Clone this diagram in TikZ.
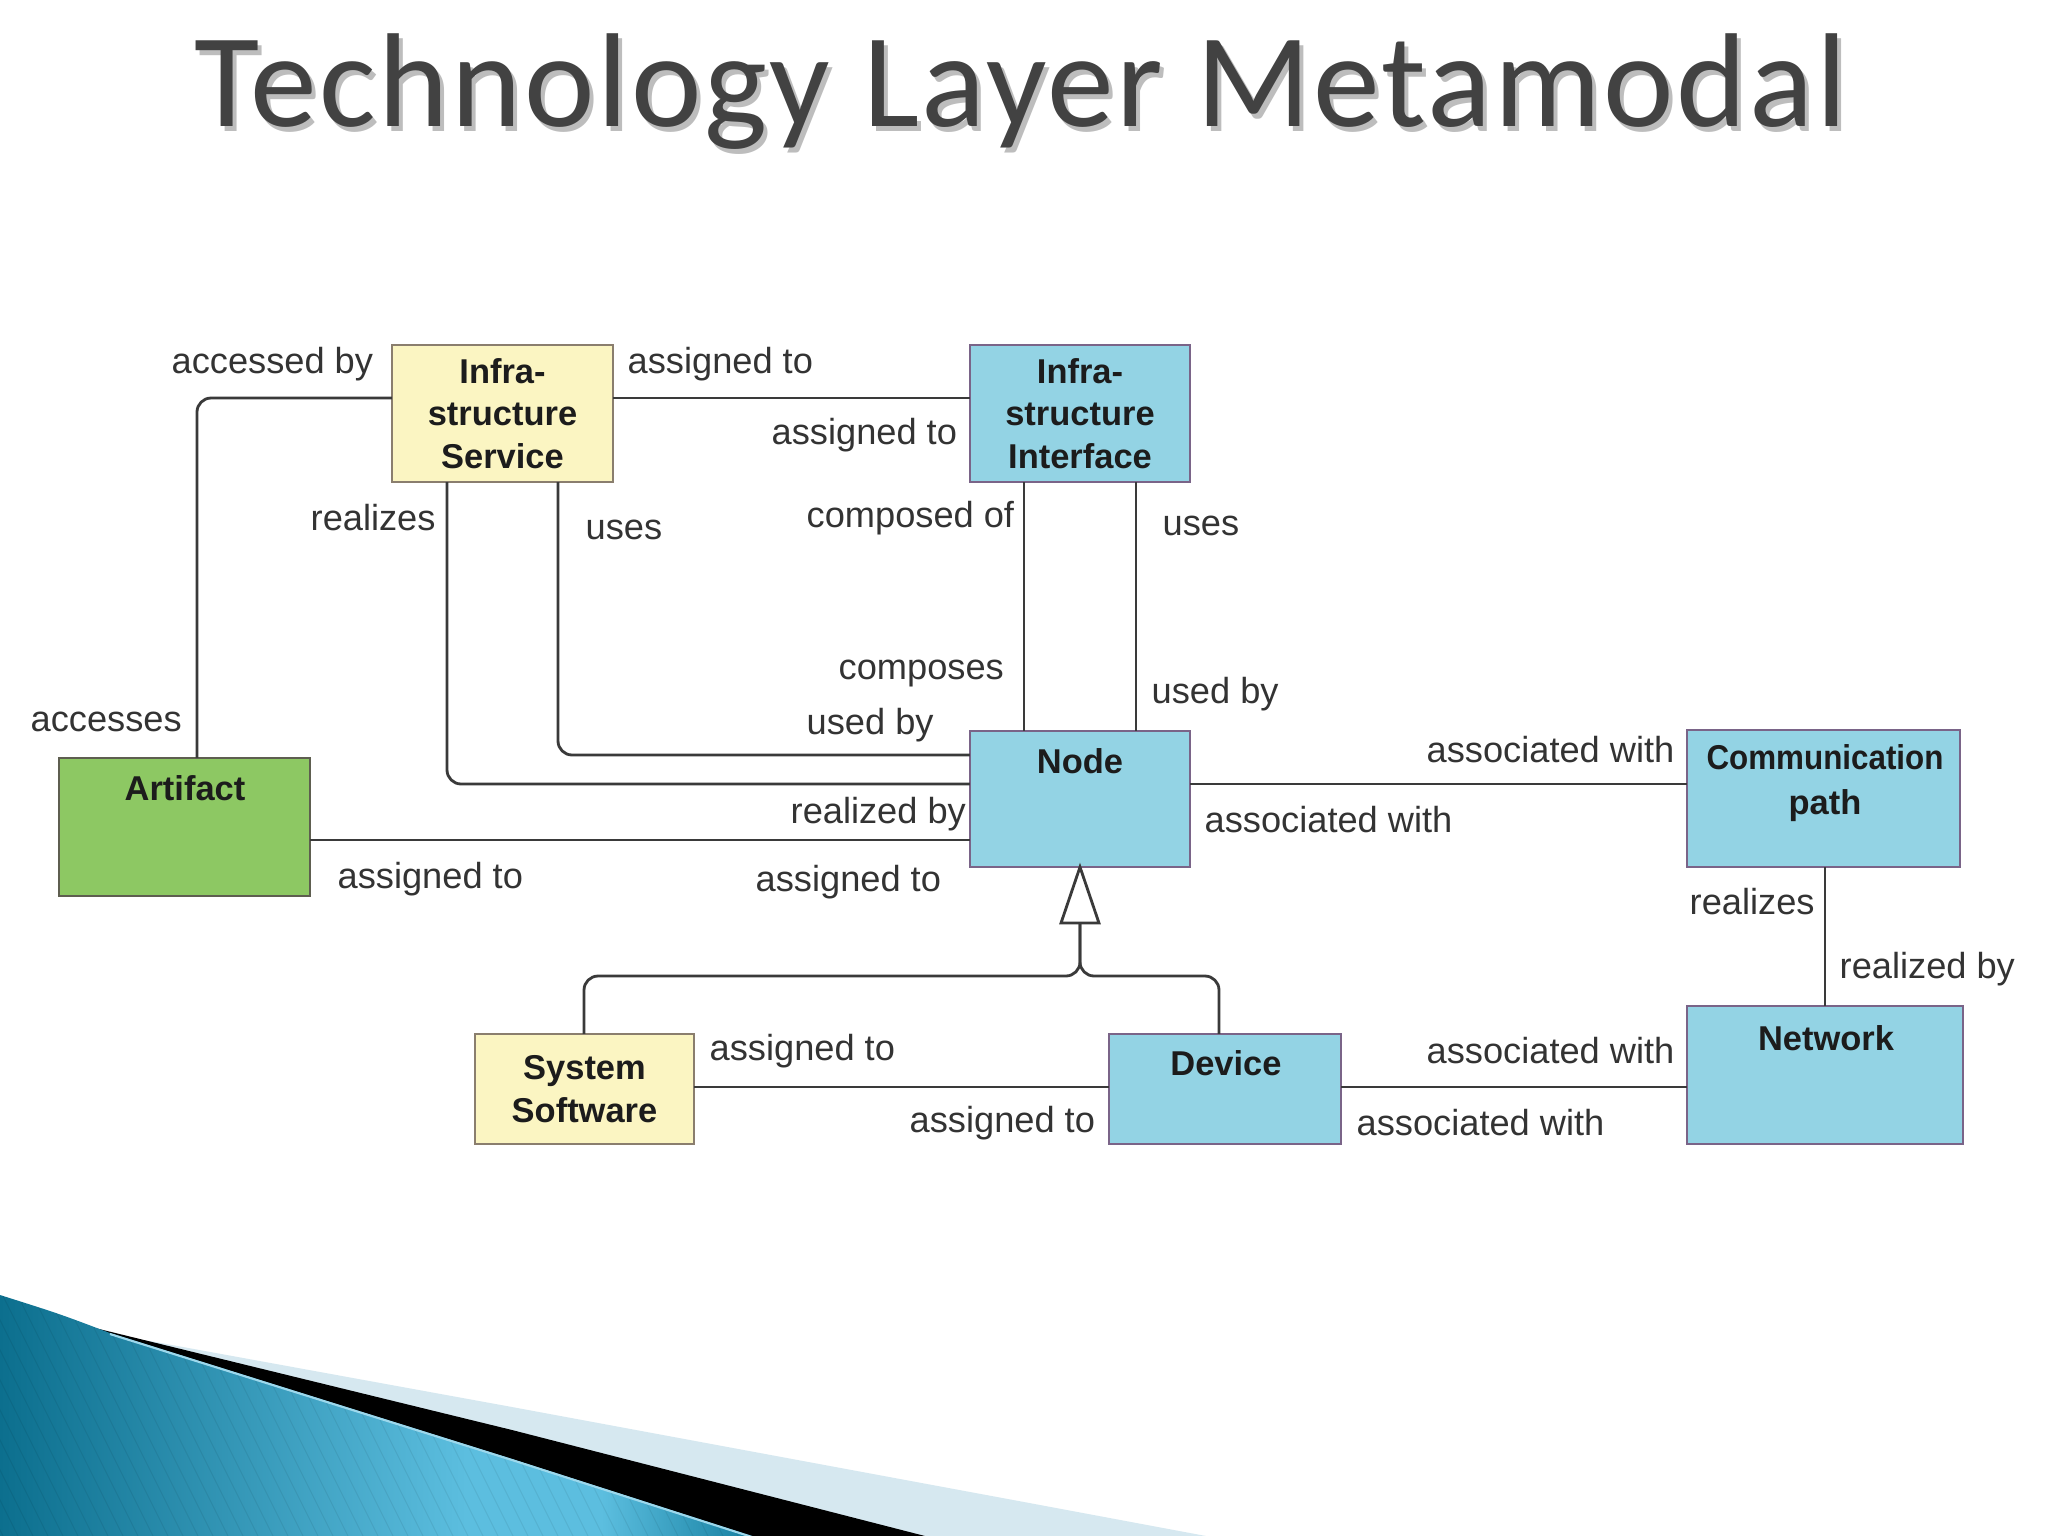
\documentclass[tikz,border=0pt]{standalone}
\usepackage{fontspec}
\setmainfont{Liberation Sans}
\newfontfamily\titlefont[LetterSpace=2.0]{Carlito}
\usetikzlibrary{calc}
\definecolor{lnc}{HTML}{3A3A3A}
\definecolor{lblc}{HTML}{333333}
\definecolor{boxtext}{HTML}{1C1C1C}
\definecolor{yel}{HTML}{FBF5C2}
\definecolor{ybord}{HTML}{8A7E6E}
\definecolor{blu}{HTML}{93D3E4}
\definecolor{bbord}{HTML}{7A6488}
\definecolor{grn}{HTML}{8DC863}
\definecolor{gbord}{HTML}{5E5E50}
\definecolor{titlec}{HTML}{424242}
\definecolor{shadowc}{HTML}{BDBDBD}
\definecolor{decdk}{HTML}{0C6F8E}
\definecolor{declt}{HTML}{5CBEDF}
\definecolor{decdk2}{HTML}{1680A1}
\definecolor{declb}{HTML}{D6E8F0}
\pgfdeclarehorizontalshading{blueshade}{100bp}{color(0bp)=(decdk); color(25bp)=(decdk); color(56bp)=(declt); color(65bp)=(declt); color(75bp)=(decdk2); color(100bp)=(decdk2)}
\begin{document}
\begin{tikzpicture}[x=0.01cm,y=-0.01cm,
  ln/.style={draw=lnc, line width=0.8pt},
  box/.style={line width=0.7pt, inner sep=0pt, outer sep=0pt, align=center,
    font=\fontsize{9.8}{12.1}\selectfont\bfseries, text=boxtext},
  ybox/.style={box, fill=yel, draw=ybord},
  bbox/.style={box, fill=blu, draw=bbord},
  gbox/.style={box, fill=grn, draw=gbord},
  btxt/.style={inner sep=0pt, align=center, font=\fontsize{9.8}{12.5}\selectfont\bfseries, text=boxtext},
  lbl/.style={inner sep=0pt, anchor=west, font=\fontsize{10.3}{12}\selectfont, text=lblc}]
\useasboundingbox (0,0) rectangle (2048,1536);
\fill[white] (0,0) rectangle (2048,1536);

% decoration bottom-left
\fill[declb] (150,1341) -- (512,1407) -- (1024,1502) -- (1206,1536) -- (0,1536) -- cycle;
\fill[black] (95,1328) -- (512,1430) -- (925,1536) -- (0,1536) -- cycle;
\shade[shading=blueshade] (0,1295) .. controls (60,1314) .. (110,1333) -- (512,1459) -- (752,1536) -- (0,1536) -- cycle;
\begin{scope}
  \clip (0,1295) .. controls (60,1314) .. (110,1333) -- (512,1459) -- (752,1536) -- (0,1536) -- cycle;
  \foreach \i in {-200,-185,...,760} \draw[black, opacity=0.07, line width=0.3pt] (\i,1280) -- ++(140,280);
\end{scope}
\draw[declt!60!white, line width=0.6pt] (110,1334) -- (512,1460) -- (752,1537);

% title
\node[anchor=base west, inner sep=0pt, font=\titlefont\fontsize{38}{40}\selectfont, text=shadowc] (titlesh) at (198,131) {Technology Layer Metamodal};
\node[anchor=base west, inner sep=0pt, font=\titlefont\fontsize{38}{40}\selectfont, text=titlec] (title) at (194,126) {Technology Layer Metamodal};

% boxes
\node[ybox, minimum width=2.21cm, minimum height=1.37cm] (svc) at (502.5,413.5) {Infra-\\structure\\Service};
\node[bbox, minimum width=2.20cm, minimum height=1.37cm] (itf) at (1080,413.5) {Infra-\\structure\\Interface};
\node[bbox, minimum width=2.20cm, minimum height=1.36cm] (node) at (1080,799) {};
\node[btxt] (nodet) at (1080,761) {Node};
\node[gbox, minimum width=2.51cm, minimum height=1.38cm] (art) at (184.5,827) {};
\node[btxt] (artt) at (185,788) {Artifact};
\node[bbox, minimum width=2.73cm, minimum height=1.37cm] (comm) at (1823.5,798.5) {};
\node[btxt, font=\fontsize{9.8}{13}\selectfont\bfseries] (commt) at (1825,783) {\scalebox{0.91}[1]{Communication}\\path};
\node[bbox, minimum width=2.76cm, minimum height=1.38cm] (net) at (1825,1075) {};
\node[btxt] (nett) at (1826,1038) {Network};
\node[ybox, minimum width=2.19cm, minimum height=1.10cm] (sys) at (584.5,1089) {System\\Software};
\node[bbox, minimum width=2.32cm, minimum height=1.10cm] (dev) at (1225,1089) {};
\node[btxt] (devt) at (1226,1063) {Device};

% connectors
\draw[ln, rounded corners=4pt] (art.north -| 197,0) |- (svc.west |- 0,398);
\draw[ln] (svc.east |- 0,398) -- (itf.west |- 0,398);
\draw[ln, rounded corners=4pt] (svc.south -| 447,0) |- (node.west |- 0,784);
\draw[ln, rounded corners=4pt] (svc.south -| 558,0) |- (node.west |- 0,755);
\draw[ln] (itf.south -| 1024,0) -- (node.north -| 1024,0);
\draw[ln] (itf.south -| 1136,0) -- (node.north -| 1136,0);
\draw[ln] (art.east |- 0,840) -- (node.west |- 0,840);
\draw[ln] (node.east |- 0,784) -- (comm.west |- 0,784);
\draw[ln] (comm.south -| 1825,0) -- (net.north -| 1825,0);
\draw[ln] (sys.east |- 0,1087) -- (dev.west |- 0,1087);
\draw[ln] (dev.east |- 0,1087) -- (net.west |- 0,1087);

% generalization
\coordinate (gb) at ($(node.south)+(0,56)$);
\draw[ln, rounded corners=4pt] (gb) |- (584,976) -- (sys.north -| 584,0);
\draw[ln, rounded corners=4pt] (gb) |- (1219,976) -- (dev.north -| 1219,0);
\draw[ln, fill=white, line join=miter] (node.south) -- ($(gb)+(-19,0)$) -- ($(gb)+(19,0)$) -- cycle;

% labels
\node[lbl] (l1) at (171,364) {accessed by};
\node[lbl] (l2) at (30,722) {accesses};
\node[lbl] (l3) at (627,364) {assigned to};
\node[lbl] (l4) at (771,435) {assigned to};
\node[lbl] (l5) at (310,518) {realizes};
\node[lbl] (l6) at (585,530) {uses};
\node[lbl] (l7) at (806,518) {composed of};
\node[lbl] (l8) at (1162,526) {uses};
\node[lbl] (l9) at (838,674) {composes};
\node[lbl] (l10) at (1151,694) {used by};
\node[lbl] (l11) at (806,725) {used by};
\node[lbl] (l12) at (790,814) {realized by};
\node[lbl] (l13) at (337,879) {assigned to};
\node[lbl] (l14) at (755,882) {assigned to};
\node[lbl] (l15) at (1426,750) {associated with};
\node[lbl] (l16) at (1204,820) {associated with};
\node[lbl] (l17) at (1689,902) {realizes};
\node[lbl] (l18) at (1839,969) {realized by};
\node[lbl] (l19) at (709,1051) {assigned to};
\node[lbl] (l20) at (909,1123) {assigned to};
\node[lbl] (l21) at (1426,1051) {associated with};
\node[lbl] (l22) at (1356,1123) {associated with};
\end{tikzpicture}
\end{document}
